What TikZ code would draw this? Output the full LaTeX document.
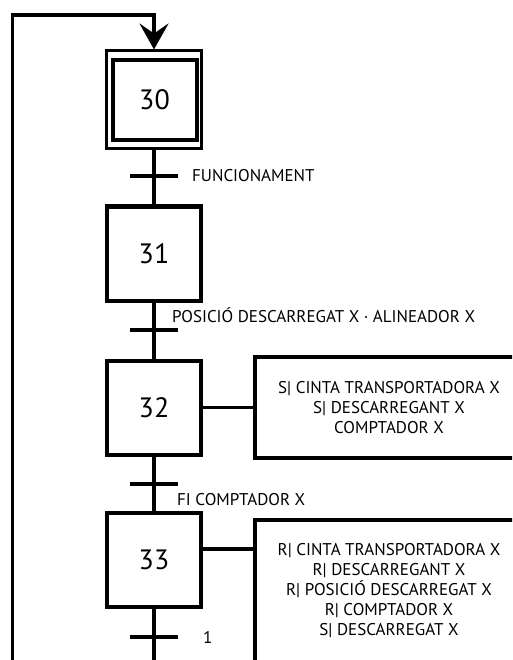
\documentclass[tikz,border=0pt]{standalone}
\usepackage{fontspec}
\setmainfont{PT Sans}
\usetikzlibrary{arrows.meta}
\begin{document}
\begin{tikzpicture}[x=1pt,y=-1pt]
\tikzset{
 stepbox/.style={draw, line width=4pt, minimum width=94pt, minimum height=94pt, inner sep=0pt, font=\fontsize{28}{30}\selectfont},
 initbox/.style={draw, line width=3pt, minimum width=95pt, minimum height=97.5pt, inner sep=0pt},
 actbox/.style={draw, line width=4pt, inner sep=0pt, align=center, minimum width=268pt, font=\fontsize{17}{20}\selectfont},
 link/.style={line width=3.5pt},
 bar/.style={line width=3.5pt},
 lbl/.style={anchor=base west, inner sep=0pt, font=\fontsize{17}{20}\selectfont},
}
\useasboundingbox (0,0) rectangle (512,660);
\clip (0,0) rectangle (512,660);
% steps
\node[initbox] (s30) at (154,99.75) {};
\node[stepbox, minimum width=84pt, minimum height=80pt] (s30in) at (154.5,100) {30};
\node[stepbox] (s31) at (154,253.5) {31};
\node[stepbox] (s32) at (154,407.5) {32};
\node[stepbox] (s33) at (154,560) {33};
% actions
\node[actbox, minimum height=101pt] (a32) at (389,407.5) {S| CINTA TRANSPORTADORA X\\S| DESCARREGANT X\\COMPTADOR X};
\node[actbox, minimum height=142pt] (a33) at (389,591) {R| CINTA TRANSPORTADORA X\\R| DESCARREGANT X\\R| POSICIÓ DESCARREGAT X\\R| COMPTADOR X\\S| DESCARREGAT X};
% links between steps
\draw[link] (s30.south) -- (s31.north);
\draw[link] (s31.south) -- (s32.north);
\draw[link] (s32.south) -- (s33.north);
\draw[link] (s32.east) -- (a32.west);
\coordinate (c33) at ([yshift=11pt]s33.east);
\draw[link] (c33) -- (c33 -| a32.west);
% loop back
\coordinate (bot) at (154,690);
\coordinate (botl) at (12.5,690);
\coordinate (topl) at (12.5,15);
\draw[link, -{Stealth[length=26pt, width=29pt, inset=10pt]}] (s33.south) -- (bot) -- (botl) -- (topl) -- (s30.north |- topl) -- (s30.north);
% transitions
\coordinate (t1) at (154,176);
\coordinate (t2) at (154,330);
\coordinate (t3) at (154,484);
\coordinate (t4) at (154,637);
\foreach \t in {t1,t2,t3,t4}{
  \draw[bar] ([xshift=-24pt]\t) -- ([xshift=24pt]\t);
}
% receptivities
\node[lbl] (r1) at (192,182) {FUNCIONAMENT};
\node[lbl] (r2) at (172,322) {POSICIÓ DESCARREGAT X · ALINEADOR X};
\node[lbl] (r3) at (177,505) {FI COMPTADOR X};
\node[lbl] (r4) at (203,643) {1};
\end{tikzpicture}
\end{document}
